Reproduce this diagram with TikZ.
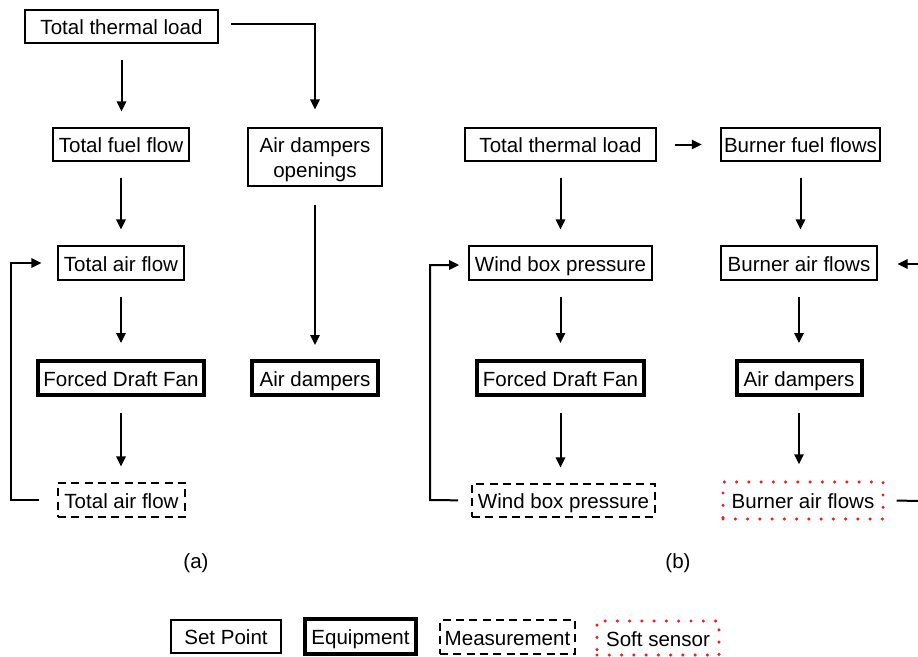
\documentclass[tikz,border=0pt]{standalone}
\usepackage{fontspec}
\setmainfont{Liberation Sans}
\usetikzlibrary{arrows.meta}
\definecolor{ssred}{RGB}{240,30,30}
\begin{document}
\begin{tikzpicture}[x=0.75pt,y=-0.75pt,
  font=\fontsize{15.4}{18.75}\selectfont,
  base/.style={draw,line width=0.8pt,inner sep=0pt,minimum height=33*0.75pt,align=center},
  box/.style={base,text height=12pt,text depth=0pt},
  sp/.style={box},
  eq/.style={box,line width=3pt,minimum height=34*0.75pt},
  meas/.style={box,dash pattern=on 6pt off 4pt,minimum height=34*0.75pt},
  soft/.style={box,draw=ssred,line width=2.6pt,line cap=round,dash pattern=on 0pt off 9.2pt,minimum height=34*0.75pt},
  wd/.style={minimum width=#1*0.75pt},
  arr/.style={line width=1.5pt,-{Triangle[length=7.5pt,width=7pt]},shorten <=12pt,shorten >=12pt},
  ln/.style={line width=1.5pt}]
\useasboundingbox (0,0) rectangle (918,657);
\clip (0,0) rectangle (918,657);

% ---------- panel (a) ----------
\node[sp,wd=193] (lttl) at (121.5,26.5) {Total thermal load};
\node[base,wd=134,minimum height=58*0.75pt,text height=30.75pt,text depth=0pt] (lado) at (315,157) {Air dampers\\openings};
\node[sp,wd=136] (lfuel) at (121,144.5) {Total fuel flow};
\node[sp,wd=126,minimum height=34*0.75pt] (ltaf) at (121,263) {Total air flow};
\node[eq,wd=166] (lfdf) at (121,378) {Forced Draft Fan};
\node[eq,wd=126] (lad) at (315,378) {Air dampers};
\node[meas,wd=127] (ltafm) at (121.5,500) {Total air flow};

\draw[arr] (lttl.south) -- (lttl.south |- lfuel.north);
\draw[arr,shorten <=9pt,shorten >=13.5pt] ([yshift=1.8pt]lttl.east) -| (lado.north);
\draw[arr] (lfuel.south) -- (lfuel.south |- ltaf.north);
\draw[arr,shorten <=14pt,shorten >=10.5pt] (lado.south) -- (lado.south |- lad.north);
\draw[arr] (ltaf.south) -- (ltaf.south |- lfdf.north);
\draw[arr] (lfdf.south) -- (lfdf.south |- ltafm.north);
\coordinate (lfb) at (11,500);
\draw[arr,shorten <=13.5pt,shorten >=12pt] (ltafm.west) -- (lfb) |- (ltaf.west);

% ---------- panel (b) ----------
\node[sp,wd=191] (rttl) at (560.5,144.5) {Total thermal load};
\node[sp,wd=159] (rbff) at (800.5,144.5) {Burner fuel flows};
\node[sp,wd=183,minimum height=34*0.75pt] (rwb) at (560.5,263) {Wind box pressure};
\node[sp,wd=156,minimum height=34*0.75pt] (rbaf) at (799,263) {Burner air flows};
\node[eq,wd=167] (rfdf) at (560.5,378) {Forced Draft Fan};
\node[eq,wd=125] (rad) at (799,378) {Air dampers};
\node[meas,wd=183,minimum height=33*0.75pt] (rwbm) at (563.5,500.5) {Wind box pressure};
\node[soft,wd=160,minimum height=37*0.75pt] (rbafs) at (803,500.5) {Burner air flows};

\draw[arr,shorten <=14pt,shorten >=14pt] (rttl.east) -- (rbff.west);
\draw[arr] (rttl.south) -- (rttl.south |- rwb.north);
\draw[arr] (rbff.south) -- (rbff.south |- rbaf.north);
\draw[arr] (rwb.south) -- (rwb.south |- rfdf.north);
\draw[arr] (rbaf.south) -- (rbaf.south |- rad.north);
\draw[arr] (rfdf.south) -- (rfdf.south |- rwbm.north);
\draw[arr] (rad.south) -- (rad.south |- rbafs.north);
\coordinate (rfb) at (430,500);
\draw[arr,shorten <=10pt,shorten >=7pt] (rwbm.west) -- (rfb) |- ([yshift=-1.5pt]rwb.west);
\coordinate (rin) at (930,264);
\draw[arr,shorten <=0pt,shorten >=15pt] (rin) -- (rin -| rbaf.east);
\coordinate (rout) at (930,501);
\draw[ln,shorten <=9pt] (rbafs.east) -- (rout);

% ---------- captions ----------
\node (la) at (196,563) {(a)};
\node (lb) at (678,563) {(b)};

% ---------- legend ----------
\node[sp,wd=110] (kset) at (226,636.5) {Set Point};
\node[eq,wd=111,minimum height=35*0.75pt] (keq) at (360.5,636.5) {Equipment};
\node[meas,wd=135] (kmeas) at (507.5,637) {Measurement};
\node[soft,wd=122,minimum height=34*0.75pt] (ksoft) at (658,638) {Soft sensor};
\end{tikzpicture}
\end{document}
